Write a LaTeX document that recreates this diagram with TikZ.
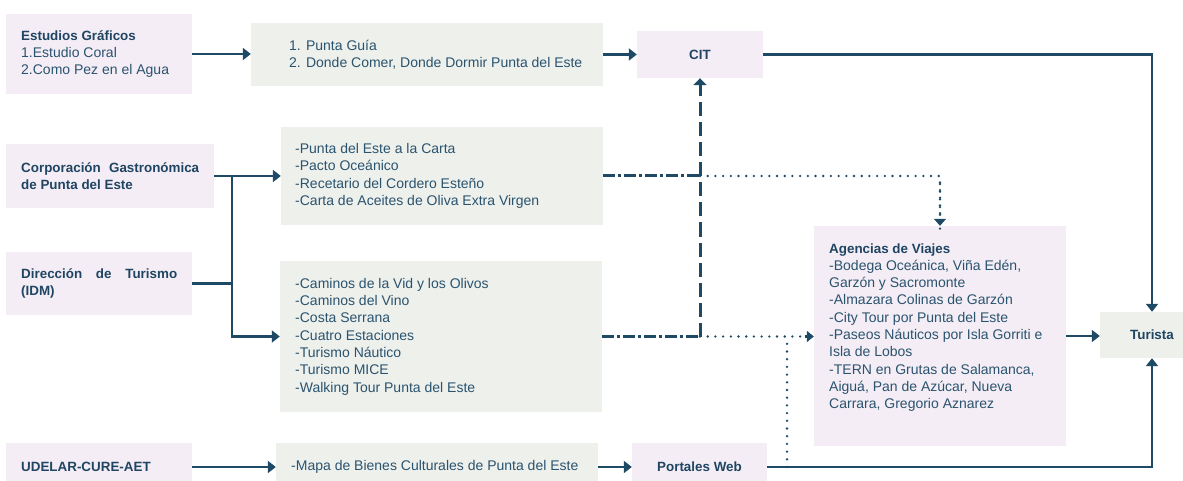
\documentclass[tikz,border=0pt]{standalone}
\usepackage{fontspec}
\setmainfont{Liberation Sans}
\usetikzlibrary{arrows.meta}
\definecolor{navy}{HTML}{1E4A65}
\definecolor{txtc}{HTML}{2A536E}
\definecolor{hdc}{HTML}{1F4562}
\definecolor{pinkf}{HTML}{F4EDF5}
\definecolor{greyf}{HTML}{EEF0EC}
\newcommand{\hd}[1]{{\bfseries\fontsize{13.4}{17.3}\selectfont\color{hdc}#1}}
\begin{document}
\begin{tikzpicture}[x=1pt,y=-1pt,
  pbox/.style={fill=pinkf,inner sep=0,draw=none},
  gbox/.style={fill=greyf,inner sep=0,draw=none},
  txt/.style={inner sep=0,align=left,anchor=west,text=txtc,font=\fontsize{14}{17.3}\selectfont},
  ctxt/.style={inner sep=0,text=hdc,font=\bfseries\fontsize{13.4}{17.3}\selectfont},
  arr/.style={draw=navy,line width=2.8pt,-{Triangle[length=8pt,width=12pt]}},
  ln/.style={draw=navy,line width=2.8pt},
  dashdot/.style={draw=navy,line width=3pt,dash pattern=on 12pt off 3pt on 3pt off 3pt},
  dsh/.style={draw=navy,line width=3pt,dash pattern=on 14pt off 6pt,-{Triangle[length=7pt,width=13pt]}},
  dots/.style={draw=navy,line width=2.6pt,line cap=round,dash pattern=on 0pt off 7.7pt},
]
\clip (0,0) rectangle (1183,481);
\fill[white] (0,0) rectangle (1183,481);

% boxes
\node[pbox,minimum width=186pt,minimum height=80pt] (est) at (99,54) {};
\node[gbox,minimum width=352pt,minimum height=63pt] (pg) at (427,54.5) {};
\node[pbox,minimum width=126pt,minimum height=47pt] (cit) at (700,54.5) {};
\node[pbox,minimum width=208pt,minimum height=64pt] (corp) at (110,176) {};
\node[gbox,minimum width=322pt,minimum height=98pt] (b2) at (442,176) {};
\node[pbox,minimum width=186pt,minimum height=63pt] (dir) at (99,283.5) {};
\node[gbox,minimum width=322pt,minimum height=151pt] (cam) at (441,336.5) {};
\node[pbox,minimum width=252pt,minimum height=220pt] (ag) at (940,336) {};
\node[gbox,minimum width=104pt,minimum height=46pt] (tur) at (1152,335) {};
\node[pbox,minimum width=186pt,minimum height=48pt] (ud) at (99,467) {};
\node[gbox,minimum width=322pt,minimum height=48pt] (map) at (437,467) {};
\node[pbox,minimum width=135pt,minimum height=48pt] (port) at (699.5,467) {};

% texts
\node[txt] (estT) at (21,54) {\hd{Estudios Gráficos}\\1.Estudio Coral\\2.Como Pez en el Agua};
\node[txt] (pgT) at (289,54.5) {1. Punta Guía\\2. Donde Comer, Donde Dormir Punta del Este};
\node[ctxt] (citT) at (cit) {CIT};
\node[txt] (corpT) at (21,176) {\hd{\makebox[178pt][s]{Corporación Gastronómica}}\\\hd{de Punta del Este}};
\node[txt] (b2T) at (295,176) {-Punta del Este a la Carta\\-Pacto Oceánico\\-Recetario del Cordero Esteño\\-Carta de Aceites de Oliva Extra Virgen};
\node[txt] (dirT) at (21,283.5) {\hd{\makebox[156pt][s]{Dirección de Turismo}}\\\hd{(IDM)}};
\node[txt] (camT) at (295,336.5) {-Caminos de la Vid y los Olivos\\-Caminos del Vino\\-Costa Serrana\\-Cuatro Estaciones\\-Turismo Náutico\\-Turismo MICE\\-Walking Tour Punta del Este};
\node[txt] (agT) at (829,327.5) {\hd{Agencias de Viajes}\\-Bodega Oceánica, Viña Edén,\\Garzón y Sacromonte\\-Almazara Colinas de Garzón\\-City Tour por Punta del Este\\-Paseos Náuticos por Isla Gorriti e\\Isla de Lobos\\-TERN en Grutas de Salamanca,\\Aiguá, Pan de Azúcar, Nueva\\Carrara, Gregorio Aznarez};
\node[ctxt] (turT) at (tur) {Turista};
\node[txt] (udT) at (21,467) {\hd{UDELAR-CURE-AET}};
\node[txt] (mapT) at (291,467) {-Mapa de Bienes Culturales de Punta del Este};
\node[ctxt] (portT) at (port) {Portales Web};

% junction coordinates
\coordinate (j1) at (232,176);
\coordinate (jb) at (b2.east -| cit.south);
\coordinate (jc) at (cam.east -| cit.south);
\coordinate (pj) at (787,467);

% dotted connectors
\draw[dots] (jb) -| ([yshift=-9pt]ag.north);
\draw[dots,-{Triangle[length=7pt,width=12pt]}] (jb -| ag.north) ++(0,8) -- (ag.north);
\draw[dots] (jc) -- ([xshift=-8pt]jc -| ag.west);
\draw[draw=navy,line width=2.4pt,-{Triangle[length=7pt,width=11pt]}] ([xshift=-9pt]jc -| ag.west) -- (jc -| ag.west);
\draw[dots] (pj) -- (pj |- jc);

% dash-dot connectors
\draw[dashdot] (b2.east) -- (jb);
\draw[dashdot] (cam.east) -- (jc);
\draw[dsh] (jc) -- (cit.south);

% solid connectors
\draw[arr] (est.east) -- (est.east -| pg.west);
\draw[arr] (pg.east) -- (cit.west);
\draw[arr] (cit.east) -| (tur.north);
\draw[arr] (corp.east) -- (corp.east -| b2.west);
\draw[ln] (dir.east) -- (dir.east -| j1);
\draw[arr] (j1) |- (cam.west);
\draw[arr] (ag.east) -- (ag.east -| tur.west);
\draw[arr] (ud.east) -- (map.west);
\draw[arr] (map.east) -- (port.west);
\draw[arr] (port.east) -| (tur.south);
\end{tikzpicture}
\end{document}
